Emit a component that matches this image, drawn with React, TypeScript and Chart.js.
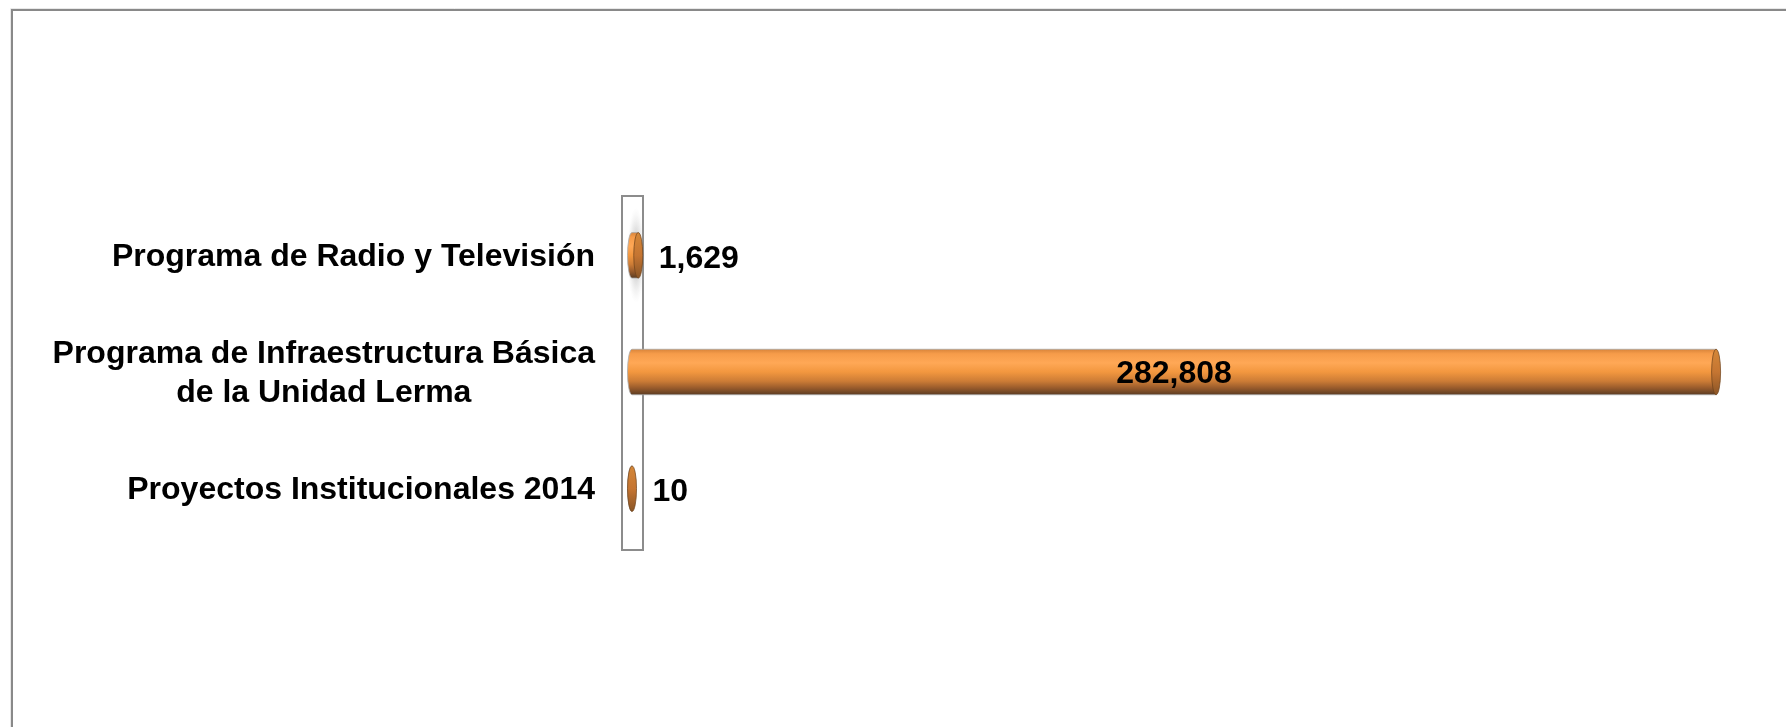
import React, { useEffect, useRef } from "react";
import { Chart, registerables } from "chart.js";

Chart.register(...registerables);

const categories: (string | string[])[] = [
  "Programa de Radio y Televisión",
  ["Programa de Infraestructura Básica", "de la Unidad Lerma"],
  "Proyectos Institucionales 2014",
];
const values: number[] = [1629, 282808, 10];
const axisMin = 0;
const axisMax = 300000;

const FONT = '"Liberation Sans", Arial, Helvetica, sans-serif';

const fmt = (v: number) => v.toLocaleString("en-US");

const cylinderPlugin = {
  id: "cylinderPlugin",
  beforeDraw(chart: any) {
    const ctx = chart.ctx as CanvasRenderingContext2D;
    ctx.save();
    ctx.strokeStyle = "#e8e8e8";
    ctx.lineWidth = 1;
    ctx.beginPath();
    ctx.moveTo(10.5, chart.height);
    ctx.lineTo(10.5, 8.5);
    ctx.lineTo(chart.width, 8.5);
    ctx.stroke();
    ctx.strokeStyle = "#898989";
    ctx.lineWidth = 2;
    ctx.beginPath();
    ctx.moveTo(12, chart.height);
    ctx.lineTo(12, 10);
    ctx.lineTo(chart.width, 10);
    ctx.stroke();
    ctx.restore();
  },
  beforeDatasetsDraw(chart: any) {
    const ctx = chart.ctx as CanvasRenderingContext2D;
    const a = chart.chartArea;
    ctx.save();
    ctx.strokeStyle = "#8c8c8c";
    ctx.lineWidth = 2;
    ctx.strokeRect(a.left - 10, a.top - 1, 21, a.bottom - a.top + 4);
    ctx.restore();
  },
  afterDatasetsDraw(chart: any) {
    const ctx = chart.ctx as CanvasRenderingContext2D;
    const meta = chart.getDatasetMeta(0);
    const a = chart.chartArea;
    const yScale = chart.scales.y;
    ctx.save();
    // category labels
    ctx.font = `bold 32px ${FONT}`;
    ctx.fillStyle = "#000";
    ctx.textBaseline = "middle";
    ctx.textAlign = "center";
    const labelRight = a.left - 37;
    const lineH = 39;
    chart.data.labels.forEach((lab: string | string[], i: number) => {
      const lines = Array.isArray(lab) ? lab : [lab];
      const maxW = Math.max(...lines.map((l) => ctx.measureText(l).width));
      const cx = labelRight - maxW / 2;
      const cy = yScale.getPixelForTick(i) + 2;
      const startY = cy - ((lines.length - 1) * lineH) / 2;
      lines.forEach((l, k) => ctx.fillText(l, cx, startY + k * lineH));
    });

    meta.data.forEach((el: any, i: number) => {
      const p = el.getProps(["x", "y", "base", "height"], true);
      const x0 = p.base;
      const x1 = p.x;
      const y = p.y;
      const h = p.height;
      const r = h / 2;
      const rx = 4.5;
      const top = y - r;
      const bot = y + r;

      const g = ctx.createLinearGradient(0, top, 0, bot);
      g.addColorStop(0, "#d8843a");
      g.addColorStop(0.1, "#f69c4a");
      g.addColorStop(0.3, "#ffa856");
      g.addColorStop(0.5, "#f2973f");
      g.addColorStop(0.7, "#cc7c36");
      g.addColorStop(0.86, "#95592b");
      g.addColorStop(1, "#5b3c22");

      if (i === 0) {
        // soft grey glow around the short bar, as in the reference
        ctx.save();
        const gg = ctx.createRadialGradient(0, 0, 0, 0, 0, 1);
        gg.addColorStop(0, "rgba(90,90,90,0.55)");
        gg.addColorStop(0.5, "rgba(140,140,140,0.3)");
        gg.addColorStop(1, "rgba(200,200,200,0)");
        ctx.translate((x0 + x1) / 2 + 1, y);
        ctx.scale(9, r * 2.1);
        ctx.fillStyle = gg;
        ctx.beginPath();
        ctx.arc(0, 0, 1, 0, Math.PI * 2);
        ctx.fill();
        ctx.restore();
      }

      // body with rounded left end
      ctx.beginPath();
      ctx.moveTo(x1, top);
      ctx.lineTo(x0, top);
      ctx.ellipse(x0, y, rx, r, 0, -Math.PI / 2, Math.PI / 2, true);
      ctx.lineTo(x1, bot);
      ctx.closePath();
      ctx.fillStyle = g;
      ctx.fill();
      ctx.strokeStyle = "rgba(170,170,170,0.8)";
      ctx.lineWidth = 1;
      ctx.stroke();

      // right cap
      const gc = ctx.createLinearGradient(0, top, 0, bot);
      gc.addColorStop(0, "#d48738");
      gc.addColorStop(0.5, "#c57532");
      gc.addColorStop(1, "#8a5526");
      ctx.beginPath();
      ctx.ellipse(x1, y, rx, r, 0, 0, Math.PI * 2);
      ctx.fillStyle = gc;
      ctx.fill();
      ctx.strokeStyle = "rgba(110,65,25,0.7)";
      ctx.lineWidth = 1;
      ctx.stroke();

      // value label
      const txt = fmt(chart.data.datasets[0].data[i]);
      ctx.font = `bold 32px ${FONT}`;
      ctx.fillStyle = "#000";
      ctx.textBaseline = "middle";
      const tw = ctx.measureText(txt).width;
      if (tw + 40 < x1 - x0) {
        ctx.textAlign = "center";
        ctx.fillText(txt, (x0 + x1) / 2, y + 2);
      } else {
        ctx.textAlign = "left";
        ctx.fillText(txt, x1 + rx + 16, y + 4);
      }
    });
    ctx.restore();
  },
};

export default function App() {
  const canvasRef = useRef<HTMLCanvasElement | null>(null);

  useEffect(() => {
    if (!canvasRef.current) return;
    const chart = new Chart(canvasRef.current, {
      type: "bar",
      data: {
        labels: categories as any,
        datasets: [
          {
            data: values,
            backgroundColor: "rgba(0,0,0,0)",
            borderWidth: 0,
            barPercentage: 0.39,
            categoryPercentage: 1,
          },
        ],
      },
      options: {
        indexAxis: "y",
        responsive: true,
        maintainAspectRatio: false,
        animation: false,
        layout: { padding: { left: 632, top: 197, bottom: 180, right: 4 } },
        plugins: {
          legend: { display: false },
          tooltip: { enabled: false },
        },
        scales: {
          x: { display: false, min: axisMin, max: axisMax },
          y: { display: false },
        },
      },
      plugins: [cylinderPlugin],
    });
    return () => chart.destroy();
  }, []);

  return (
    <div
      style={{
        position: "fixed",
        left: 0,
        top: 0,
        width: "100vw",
        height: "100vh",
        background: "#fff",
      }}
    >
      <canvas ref={canvasRef} />
    </div>
  );
}
